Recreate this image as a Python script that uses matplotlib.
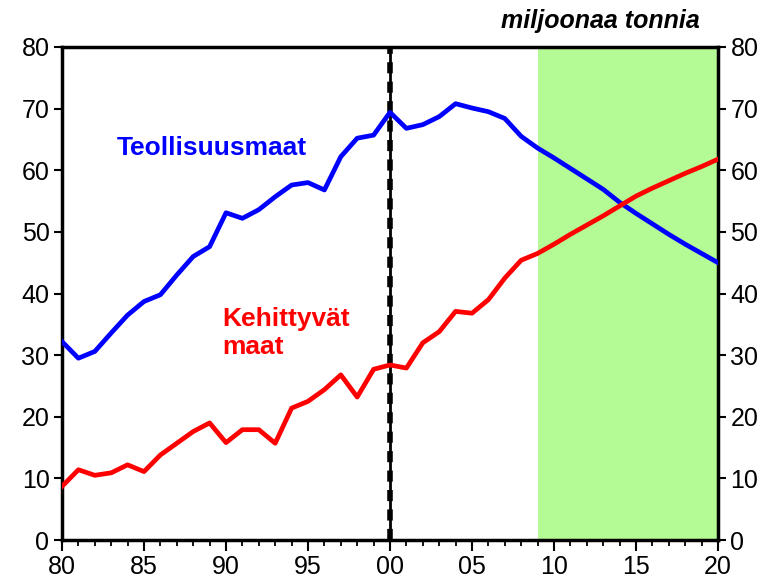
import matplotlib
matplotlib.use("Agg")
import matplotlib.pyplot as plt
from matplotlib.ticker import MultipleLocator, FixedLocator

plt.rcParams['font.family'] = ['Liberation Sans', 'DejaVu Sans']

years = list(range(1980, 2021))
teollisuusmaat = [32.2, 29.5, 30.6, 33.6, 36.5, 38.7, 39.8, 43.0, 46.0, 47.6,
                  53.1, 52.2, 53.6, 55.7, 57.6, 58.0, 56.8, 62.2, 65.2, 65.7,
                  69.4, 66.8, 67.4, 68.7, 70.8, 70.1, 69.5, 68.4, 65.5, 63.6,
                  62.0, 60.3, 58.6, 56.9, 54.8, 53.0, 51.3, 49.6, 48.0, 46.5, 45.0]
kehittyvat = [8.7, 11.4, 10.5, 10.9, 12.2, 11.1, 13.8, 15.7, 17.6, 19.0,
              15.8, 17.9, 17.9, 15.7, 21.4, 22.5, 24.4, 26.8, 23.2, 27.7,
              28.4, 27.9, 32.0, 33.8, 37.1, 36.8, 39.0, 42.5, 45.4, 46.5,
              48.0, 49.6, 51.1, 52.6, 54.2, 55.8, 57.1, 58.3, 59.5, 60.6, 61.8]
tick_years = [1980, 1985, 1990, 1995, 2000, 2005, 2010, 2015, 2020]
tick_labels = ["80", "85", "90", "95", "00", "05", "10", "15", "20"]
forecast_start = 2009
divider_year = 2000

fig = plt.figure(figsize=(7.66, 5.84), dpi=100)
ax = fig.add_axes([62/766, 1-540/584, (718-62)/766, (540-47)/584])

ax.axvspan(forecast_start, 2020, color='#b4fb96', zorder=0, lw=0)
ax.axvline(divider_year, color='black', lw=2, zorder=1)
ax.axvline(divider_year, color='black', lw=4, ls=(0, (2, 1.5)), zorder=1)

ax.plot(years, teollisuusmaat, color='#0000ff', lw=3.4, zorder=3, solid_joinstyle='round')
ax.plot(years, kehittyvat, color='#ff0000', lw=3.4, zorder=3, solid_joinstyle='round')

ax.set_xlim(1980, 2020)
ax.set_ylim(0, 80)
ax.xaxis.set_major_locator(FixedLocator(tick_years))
ax.set_xticklabels(tick_labels)
ax.xaxis.set_minor_locator(MultipleLocator(1))
ax.yaxis.set_major_locator(MultipleLocator(10))

for s in ax.spines.values():
    s.set_linewidth(2.5)

ax.tick_params(axis='x', which='major', direction='out', length=8, width=1.5,
               labelsize=18, pad=3)
ax.tick_params(axis='x', which='minor', direction='out', length=4, width=1.3)
ax.tick_params(axis='y', which='major', direction='out', length=6, width=1.5,
               labelsize=18, left=True, right=True, labelleft=True, labelright=True, pad=3)

ax.text(1983.35, 63.6, "Teollisuusmaat", color='#0000ff', fontsize=19,
        fontweight='bold', ha='left', va='center')
ax.text(1989.75, 33.6, "Kehittyvät\nmaat", color='#ff0000', fontsize=19,
        fontweight='bold', ha='left', va='center', linespacing=1.25)

fig.text(700/766, 1-21/584, "miljoonaa tonnia", fontsize=18, fontweight='bold',
         fontstyle='italic', ha='right', va='center')

fig.savefig("out.png", dpi=100)
